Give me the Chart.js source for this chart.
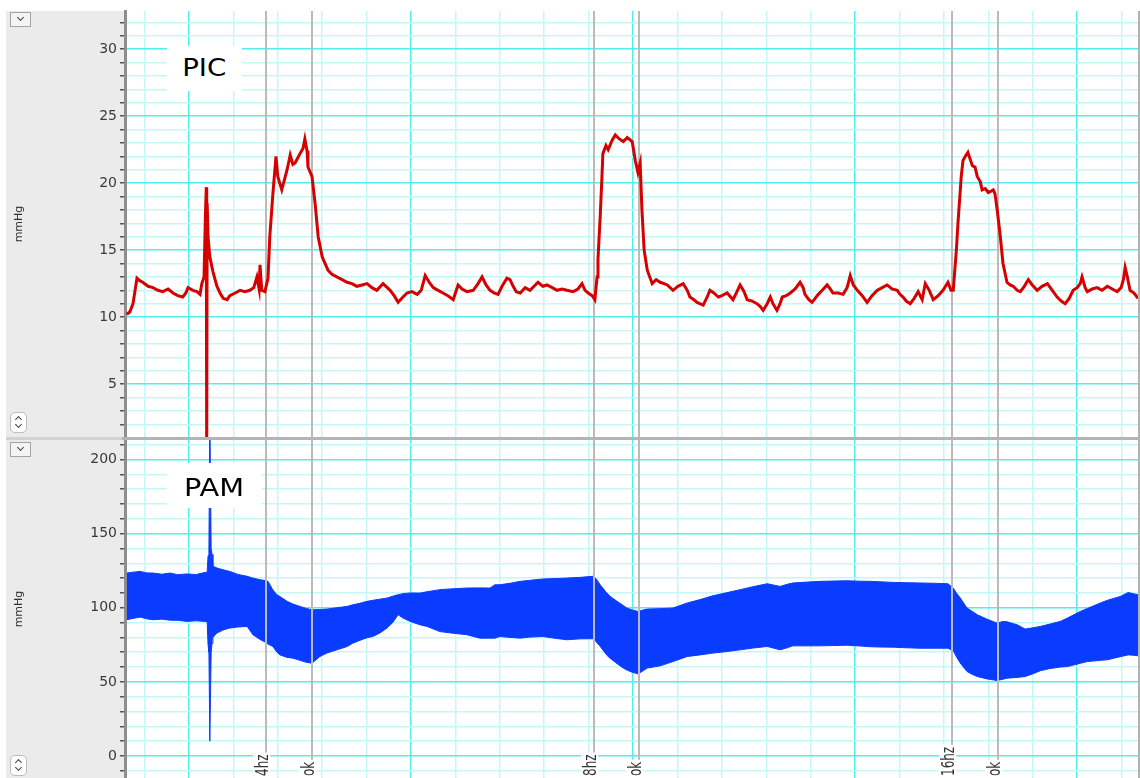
<!DOCTYPE html>
<html>
<head>
<meta charset="utf-8">
<title>PIC / PAM</title>
<script src="https://cdn.jsdelivr.net/npm/chart.js@4.4.1/dist/chart.umd.min.js"></script>
<style>
  html, body { margin: 0; padding: 0; background: #fff; width: 1140px; height: 778px; overflow: hidden; font-family: "DejaVu Sans", sans-serif; }
  #side { position: absolute; left: 6px; top: 11px; width: 118px; height: 767px; background: #ebebeb; }
  canvas { position: absolute; left: 0; }
  #picChart { top: 0; }
  #pamChart { top: 440px; }
  #sep { position: absolute; left: 6px; top: 437px; width: 1134px; height: 3px; background: #b4b4b4; }
  #sepSide { position: absolute; left: 6px; top: 437px; width: 116px; height: 3px; background: #d2d2d2; }
  #rborder { position: absolute; left: 1138px; top: 11px; width: 2px; height: 767px; background: #b2b2b2; }
  .tag { position: absolute; left: 167px; height: 45px; background: #fff; color: #000; font-size: 24px; text-align: center; line-height: 45px; }
  .tag span { display: inline-block; position: relative; }
  #picTag { top: 46px; width: 75px; }
  #picTag span { transform: scaleX(1.15); }
  #pamTag { top: 463px; width: 95px; }
  #pamTag span { transform: scaleX(1.2); top: 3px; }
  .drop { position: absolute; left: 10px; width: 21px; height: 15px; box-sizing: border-box; border: 1px solid #a3a3a3; background: #f4f4f4; }
  .updown { position: absolute; left: 10px; width: 17px; height: 21px; box-sizing: border-box; border: 1px solid #bcbcbc; border-radius: 5px; background: #fff; }
  .chev { position: absolute; width: 4px; height: 4px; border-right: 1.5px solid #444; border-bottom: 1.5px solid #444; }
  .chev.down { transform: rotate(45deg); }
  .chev.up { transform: rotate(-135deg); }
</style>
</head>
<body>
<div id="side"></div>
<canvas id="picChart" width="1140" height="437"></canvas>
<canvas id="pamChart" width="1140" height="338"></canvas>
<div id="sep"></div>
<div id="sepSide"></div>
<div id="rborder"></div>
<div class="tag" id="picTag"><span>PIC</span></div>
<div class="tag" id="pamTag"><span>PAM</span></div>
<div class="drop" style="top:12px"><i class="chev down" style="left:7px;top:2px"></i></div>
<div class="updown" style="top:412px"><i class="chev up" style="left:5px;top:4px"></i><i class="chev down" style="left:5px;top:9px"></i></div>
<div class="drop" style="top:442px"><i class="chev down" style="left:7px;top:2px"></i></div>
<div class="updown" style="top:755px"><i class="chev up" style="left:5px;top:4px"></i><i class="chev down" style="left:5px;top:9px"></i></div>

<script>
// Time axis (minutes): one minor grid division per minute, a major one every five.
const timeMin = 3.56;
const timeMax = 26.37;

// Intracranial pressure (PIC), mmHg
const picTime = [
  3.60,3.67,3.74,3.83,3.90,3.96,4.08,4.19,4.30,4.41,
  4.53,4.64,4.75,4.86,4.93,4.98,5.09,5.18,5.25,5.29,
  5.34,5.37,5.39,5.40,5.41,5.43,5.47,5.54,5.63,5.70,
  5.77,5.86,5.92,6.04,6.15,6.26,6.37,6.46,6.53,6.58,
  6.60,6.64,6.71,6.78,6.82,6.89,6.96,7.00,7.09,7.21,
  7.28,7.34,7.39,7.50,7.57,7.61,7.66,7.68,7.77,7.84,
  7.91,8.00,8.13,8.22,8.33,8.45,8.56,8.67,8.78,8.90,
  9.01,9.12,9.23,9.37,9.53,9.62,9.71,9.82,9.91,10.02,
  10.14,10.23,10.32,10.41,10.50,10.61,10.72,10.83,10.95,11.06,
  11.15,11.26,11.40,11.51,11.60,11.69,11.78,11.87,11.96,12.05,
  12.16,12.23,12.30,12.37,12.46,12.57,12.68,12.77,12.86,12.97,
  13.06,13.18,13.29,13.40,13.51,13.65,13.76,13.85,13.92,13.99,
  14.08,14.14,14.19,14.21,14.26,14.30,14.32,14.39,14.44,14.53,
  14.60,14.69,14.78,14.87,14.98,15.05,15.11,15.16,15.20,15.25,
  15.32,15.43,15.52,15.61,15.70,15.77,15.90,16.01,16.13,16.22,
  16.28,16.37,16.44,16.58,16.67,16.73,16.82,16.92,17.00,17.12,
  17.25,17.34,17.41,17.50,17.57,17.68,17.79,17.86,17.93,18.02,
  18.09,18.15,18.24,18.31,18.36,18.45,18.54,18.65,18.76,18.83,
  18.87,18.96,19.03,19.10,19.17,19.26,19.37,19.44,19.50,19.62,
  19.73,19.82,19.89,19.96,20.05,20.16,20.27,20.38,20.50,20.61,
  20.72,20.83,20.95,21.01,21.08,21.15,21.24,21.33,21.42,21.51,
  21.58,21.67,21.76,21.87,21.98,22.09,22.16,22.21,22.28,22.32,
  22.39,22.43,22.50,22.54,22.64,22.70,22.75,22.82,22.86,22.93,
  23.00,23.06,23.11,23.15,23.20,23.27,23.33,23.42,23.49,23.56,
  23.65,23.72,23.81,23.90,23.99,24.10,24.21,24.33,24.44,24.55,
  24.64,24.73,24.82,24.91,25.00,25.07,25.11,25.18,25.23,25.34,
  25.45,25.56,25.68,25.79,25.90,25.99,26.04,26.08,26.13,26.19,
  26.28,26.37
];
const picValue = [
  10.2,10.4,11.0,12.9,12.7,12.6,12.3,12.2,12.0,11.9,
  12.1,11.8,11.6,11.5,11.8,12.2,12.0,11.9,11.7,12.5,
  13.0,17.5,19.7,-1,18.5,16.0,14.5,13.4,12.3,11.8,
  11.4,11.3,11.6,11.8,12.0,11.9,12.0,12.2,13.0,12.1,
  13.9,12.0,11.9,12.9,16.0,19.2,22.0,20.5,19.5,21.0,
  22.1,21.4,21.5,22.2,22.6,23.3,22.4,21.2,20.5,18.5,
  16.0,14.5,13.5,13.2,13.0,12.8,12.6,12.5,12.3,12.4,
  12.5,12.2,12.0,12.5,12.0,11.6,11.1,11.5,11.8,11.9,
  11.7,12.0,13.1,12.6,12.2,12.0,11.8,11.6,11.3,12.4,
  12.1,11.9,12.0,12.5,13.0,12.4,12.0,11.8,11.7,12.3,
  12.9,12.8,12.3,11.9,11.8,12.2,12.0,12.3,12.6,12.3,
  12.4,12.2,12.0,12.1,12.0,11.9,12.1,12.5,12.0,11.8,
  11.6,11.3,13.0,14.3,17.5,20.5,22.2,22.8,22.5,23.2,
  23.6,23.3,23.1,23.4,23.1,21.7,20.8,21.5,18.0,15.0,
  13.5,12.5,12.8,12.6,12.5,12.4,12.0,12.3,12.5,12.0,
  11.5,11.3,11.1,10.9,11.5,12.0,11.8,11.5,11.6,11.8,
  11.3,11.9,12.4,11.9,11.3,11.2,11.0,10.8,10.5,11.0,
  11.5,11.0,10.5,11.0,11.5,11.6,11.8,12.1,12.6,12.2,
  11.7,11.3,11.1,11.4,11.7,12.0,12.4,12.1,11.8,11.8,
  11.7,12.2,13.1,12.4,12.0,11.6,11.1,11.6,12.0,12.2,
  12.4,12.1,12.0,11.7,11.5,11.2,11.0,11.4,11.9,11.3,
  12.5,12.0,11.3,11.6,12.0,12.6,12.0,12.0,15.0,17.2,
  20.5,21.7,22.1,22.3,21.3,21.2,20.5,20.1,19.5,19.6,
  19.3,19.4,19.5,19.2,18.0,16.0,14.0,12.6,12.4,12.3,
  12.0,11.9,12.3,12.8,12.4,12.0,12.3,12.5,12.0,11.5,
  11.2,11.0,11.4,12.0,12.2,12.5,13.0,12.2,11.9,12.1,
  12.2,12.0,12.3,12.1,11.9,12.2,12.8,13.7,13.0,12.0,
  11.8,11.4
];

// Arterial pressure (PAM): beat-to-beat envelope, mmHg
const pamTime = [
  3.60,3.74,3.90,4.05,4.19,4.39,4.57,4.75,4.95,5.16,
  5.36,5.41,5.43,5.45,5.47,5.50,5.52,5.54,5.63,5.77,
  5.92,6.10,6.31,6.44,6.60,6.69,6.78,6.89,6.98,7.05,
  7.21,7.34,7.50,7.64,7.77,7.95,8.11,8.33,8.56,8.69,
  8.85,9.01,9.14,9.30,9.46,9.59,9.71,9.82,9.98,10.20,
  10.36,10.65,10.95,11.26,11.55,11.78,11.89,12.00,12.23,12.46,
  12.68,12.97,13.24,13.51,13.81,14.10,14.17,14.26,14.41,14.48,
  14.64,14.78,14.86,14.98,15.11,15.23,15.32,15.61,15.90,16.22,
  16.51,16.80,17.12,17.41,17.70,18.02,18.31,18.47,18.60,18.92,
  19.21,19.50,19.82,20.11,20.34,20.56,20.86,21.15,21.46,21.78,
  22.09,22.21,22.28,22.37,22.52,22.64,22.75,22.97,23.20,23.33,
  23.42,23.65,23.83,24.01,24.17,24.39,24.62,24.78,25.07,25.23,
  25.52,25.68,25.97,26.15,26.26,26.37
];
const pamHigh = [
  123.4,124.0,124.5,123.5,123.4,122.6,123.4,122.3,122.8,122.4,
  123.8,124.0,135,139,232,140,136,128,126.8,125.6,
  124.5,122.5,121.2,120.0,118.9,118.5,117.8,112.0,108.8,107.5,
  104.3,102.5,100.9,99.5,98.6,98.8,99.1,100.0,100.9,102.0,
  103.0,104.3,105.0,105.8,106.5,107.8,108.8,109.5,110.0,109.9,
  110.8,112.2,112.8,113.3,113.4,113.3,115.5,115.5,116.5,117.8,
  118.5,119.4,119.7,120.0,120.5,121.2,119.5,115.5,109.9,107.8,
  104.3,101.5,99.8,98.5,97.5,98.5,99.1,99.4,99.8,103.2,
  105.5,108.1,110.2,112.2,114.2,116.2,114.4,115.8,116.7,117.3,
  117.8,118.0,118.2,117.9,117.8,117.5,117.1,116.9,116.7,116.5,
  116.2,113.3,110.0,106.5,99.8,97.5,95.3,92.3,89.6,90.8,
  90.5,88.5,85.6,86.5,87.4,89.0,90.8,93.0,97.5,99.5,
  103.2,105.0,107.6,110.3,109.5,108.8
];
const pamLow = [
  91.9,92.8,93.7,92.5,91.9,92.3,91.6,91.5,90.8,91.2,
  90.8,90.5,75,70,10,70,76,80,82.9,85.0,
  86.3,87.0,87.4,81.8,78.6,77.2,75.5,73.9,70.0,68.2,
  66.5,66.0,64.5,63.2,62.6,67.1,69.5,71.6,73.8,76.1,
  78.0,79.8,80.6,83.0,86.3,90.0,95.3,93.0,90.8,88.5,
  87.4,83.9,82.8,81.8,79.5,79.5,79.5,80.6,80.0,79.5,
  80.2,80.6,79.4,78.4,79.0,79.1,77.0,73.9,68.0,66.0,
  62.3,59.3,58.0,56.5,55.4,57.5,59.3,60.8,63.7,67.1,
  68.2,69.4,70.5,71.6,72.8,73.9,71.6,73.0,74.3,74.3,
  74.3,74.5,74.7,74.2,73.7,73.5,73.4,73.0,72.7,72.7,
  72.7,71.0,67.0,62.6,57.0,55.0,53.6,52.0,50.9,51.8,
  52.5,53.0,53.6,55.5,57.5,59.0,60.0,60.3,62.5,63.7,
  64.5,64.9,67.0,68.2,68.0,67.6
];

// Stimulation events
const eventTime = [6.73, 7.77, 14.12, 15.13, 22.19, 23.22];
const eventLabel = ['4hz', 'ok', '8hz', 'ok', '16hz', 'ok'];

// Axis ranges and tick steps
const picRange = [1.05, 32.85];
const pamRange = [-14.85, 213.15];
const picStep = 1, picLabelStep = 5;
const pamStep = 10, pamLabelStep = 50;

const RED = '#d60000';
const BLUE = '#0a3cff';
const GRID_MAJOR = '#50eeee';
const GRID_MINOR = '#c4f8f8';
const FONT = 'DejaVu Sans';

Chart.defaults.font.family = FONT;

function toPoints(xs, ys) {
  return xs.map((t, i) => ({ x: t, y: ys[i] }));
}

function stepTicks(scale, step) {
  const first = Math.ceil(scale.min / step - 1e-9);
  const last = Math.floor(scale.max / step + 1e-9);
  const ticks = [];
  for (let k = first; k <= last; k++) ticks.push({ value: k * step });
  scale.ticks = ticks;
}

function gridColor(major) {
  return (ctx) => (ctx.tick && ctx.tick.value % major === 0) ? GRID_MAJOR : GRID_MINOR;
}

function drawEventLines(chart) {
  const { ctx, chartArea: a, scales: { x } } = chart;
  ctx.save();
  ctx.strokeStyle = '#bababa';
  ctx.lineWidth = 2;
  eventTime.forEach((t) => {
    const px = Math.round(x.getPixelForValue(t));
    ctx.beginPath();
    ctx.moveTo(px, a.top);
    ctx.lineTo(px, a.bottom);
    ctx.stroke();
  });
  ctx.restore();
}

function drawEventLabels(chart) {
  const { ctx, chartArea: a, scales: { x } } = chart;
  ctx.save();
  ctx.font = '12px "' + FONT + '"';
  eventTime.forEach((t, i) => {
    const px = Math.round(x.getPixelForValue(t));
    const text = eventLabel[i];
    const w = ctx.measureText(text).width;
    ctx.save();
    ctx.translate(px + 2, a.bottom - 2);
    ctx.rotate(-Math.PI / 2);
    ctx.scale(1, 1.5);
    ctx.fillStyle = '#fff';
    ctx.fillRect(-2, -10, w + 4, 11.5);
    ctx.fillStyle = '#333';
    ctx.textBaseline = 'alphabetic';
    ctx.fillText(text, 0, 0);
    ctx.restore();
  });
  ctx.restore();
}

const eventMarkers = {
  id: 'eventMarkers',
  beforeDatasetsDraw(chart, args, opts) { if (!opts.overData) drawEventLines(chart); },
  afterDatasetsDraw(chart, args, opts) { if (opts.overData) drawEventLines(chart); },
  afterDraw(chart, args, opts) { if (opts.labels) drawEventLabels(chart); }
};

function timeAxis() {
  return {
    type: 'linear',
    min: timeMin,
    max: timeMax,
    afterBuildTicks: (s) => stepTicks(s, 1),
    afterFit: (s) => { s.height = 0; },
    ticks: { display: false, autoSkip: false },
    border: { display: false },
    grid: { drawTicks: false, color: gridColor(5), lineWidth: 1.5 }
  };
}

function pressureAxis(range, step, labelStep) {
  return {
    type: 'linear',
    min: range[0],
    max: range[1],
    afterBuildTicks: (s) => stepTicks(s, step),
    afterFit: (s) => { s.width = 125; s.paddingTop = 0; s.paddingBottom = 0; },
    ticks: {
      autoSkip: false,
      padding: 3,
      color: '#3a3a3a',
      font: { size: 14 },
      callback: (v) => (v % labelStep === 0 ? String(v) : '')
    },
    grid: { color: gridColor(labelStep), lineWidth: 1.5, tickColor: '#555', tickLength: 5 },
    border: { color: '#8e8e8e', width: 3 },
    title: { display: true, text: 'mmHg', color: '#333', font: { size: 11 }, padding: { top: 13, bottom: 0 } }
  };
}

function baseOptions(yAxis, padTop, markerOpts) {
  return {
    responsive: false,
    animation: false,
    layout: { padding: { top: padTop, right: 2, bottom: 0, left: 0 } },
    scales: { x: timeAxis(), y: yAxis },
    elements: { point: { radius: 0 }, line: { tension: 0 } },
    plugins: {
      legend: { display: false },
      tooltip: { enabled: false },
      eventMarkers: markerOpts
    }
  };
}

new Chart(document.getElementById('picChart'), {
  type: 'line',
  data: {
    datasets: [{
      label: 'PIC',
      data: toPoints(picTime, picValue),
      borderColor: RED,
      borderWidth: 3,
      fill: false
    }]
  },
  options: baseOptions(pressureAxis(picRange, picStep, picLabelStep), 11, { overData: false, labels: false }),
  plugins: [eventMarkers]
});

new Chart(document.getElementById('pamChart'), {
  type: 'line',
  data: {
    datasets: [{
      label: 'PAM diastolic',
      data: toPoints(pamTime, pamLow),
      borderColor: BLUE,
      borderWidth: 1,
      fill: false
    }, {
      label: 'PAM systolic',
      data: toPoints(pamTime, pamHigh),
      borderColor: BLUE,
      borderWidth: 1,
      backgroundColor: BLUE,
      fill: '-1'
    }]
  },
  options: baseOptions(pressureAxis(pamRange, pamStep, pamLabelStep), 0, { overData: true, labels: true }),
  plugins: [eventMarkers]
});
</script>
</body>
</html>
